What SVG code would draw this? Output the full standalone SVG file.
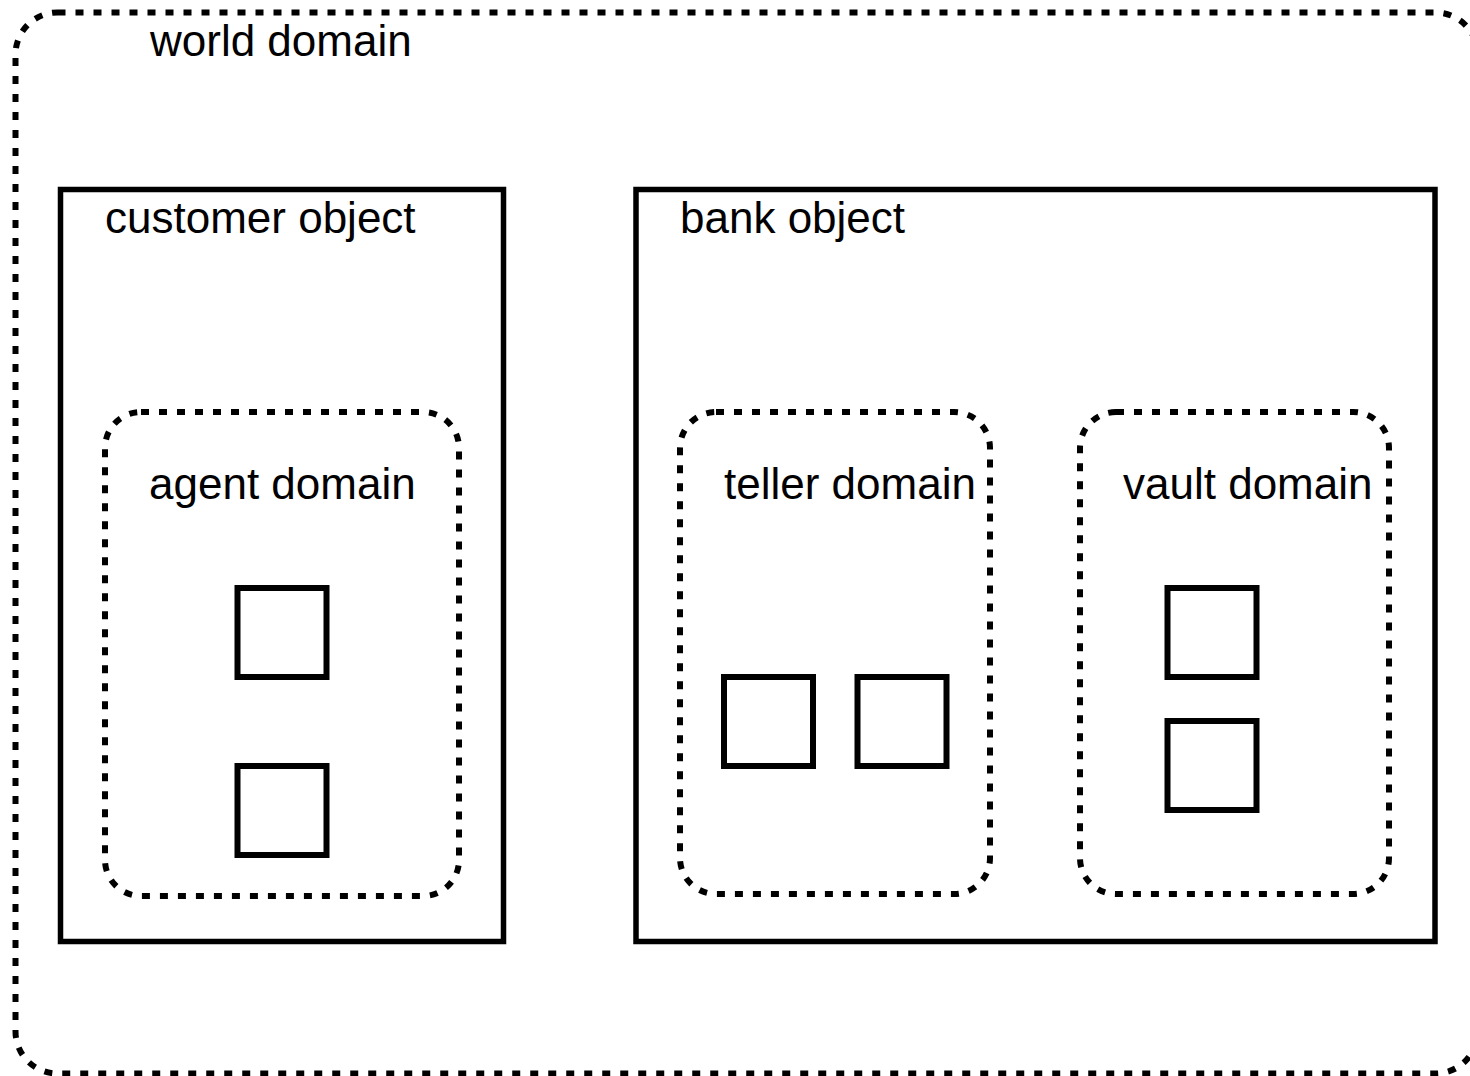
<svg xmlns="http://www.w3.org/2000/svg" width="1470" height="1076" viewBox="0 0 1470 1076">
  <style>
    .domain { fill: none; stroke: #000; stroke-width: 6; stroke-dasharray: 8 10; }
    .object { fill: none; stroke: #000; stroke-width: 5.5; }
    .item { fill: none; stroke: #000; stroke-width: 6; }
    .label { font-family: "Liberation Sans", Arial, sans-serif; font-size: 44px; fill: #000; }
  </style>
  <rect width="1470" height="1076" fill="#fff"/>

  <g id="world-domain">
    <rect class="domain" x="15.5" y="12.5" width="1462" height="1061" rx="42" ry="42"/>
    <text class="label" x="150" y="56">world domain</text>
  </g>

  <g id="customer-object">
    <rect class="object" x="60.5" y="189.5" width="443" height="752"/>
    <text class="label" x="105" y="233">customer object</text>
  </g>

  <g id="bank-object">
    <rect class="object" x="636" y="189.5" width="799" height="752"/>
    <text class="label" x="680" y="233">bank object</text>
  </g>

  <g id="agent-domain">
    <rect class="domain" x="105" y="412" width="354" height="484" rx="36" ry="36"/>
    <text class="label" x="149" y="499">agent domain</text>
  </g>

  <g id="teller-domain">
    <rect class="domain" x="680" y="412" width="310" height="482" rx="36" ry="36"/>
    <text class="label" x="724" y="499">teller domain</text>
  </g>

  <g id="vault-domain">
    <rect class="domain" x="1080" y="412" width="309" height="482" rx="36" ry="36"/>
    <text class="label" x="1123" y="499">vault domain</text>
  </g>

  <g id="agent-item-1"><rect class="item" x="237.5" y="588" width="89" height="89"/></g>
  <g id="agent-item-2"><rect class="item" x="237.5" y="766" width="89" height="89"/></g>
  <g id="teller-item-1"><rect class="item" x="724" y="677" width="89" height="89"/></g>
  <g id="teller-item-2"><rect class="item" x="857.5" y="677" width="89" height="89"/></g>
  <g id="vault-item-1"><rect class="item" x="1167.5" y="588" width="89" height="89"/></g>
  <g id="vault-item-2"><rect class="item" x="1167.5" y="721" width="89" height="89"/></g>

  <g id="connectors"></g>
</svg>
